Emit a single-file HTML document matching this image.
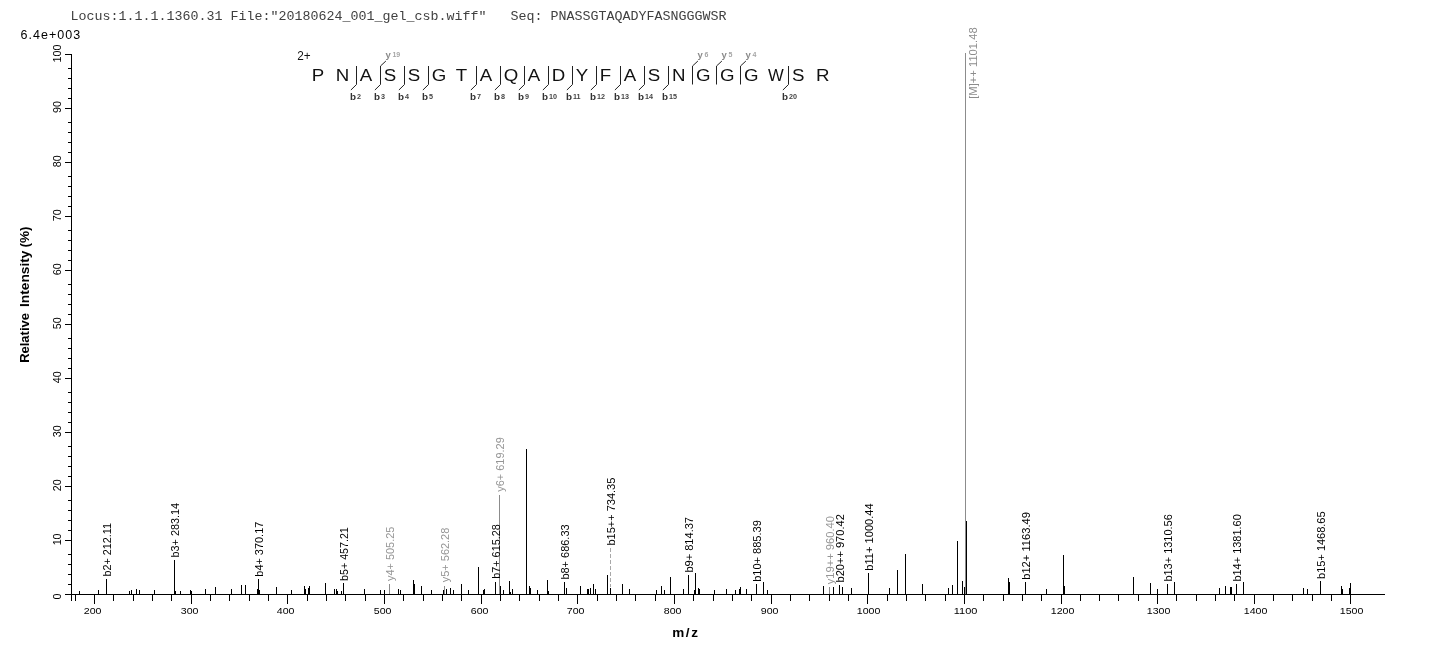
<!DOCTYPE html><html><head><meta charset="utf-8"><title>Spectrum</title><style>html,body{margin:0;padding:0;background:#fff;}svg{display:block;filter:grayscale(1);}</style></head><body>
<svg width="1436" height="654" viewBox="0 0 1436 654">
<rect width="1436" height="654" fill="#fff"/>
<text x="70.6" y="19.9" font-family="Liberation Mono, monospace" font-size="13.33" fill="#404040" xml:space="preserve" style="white-space:pre">Locus:1.1.1.1360.31 File:&quot;20180624_001_gel_csb.wiff&quot;   Seq: PNASSGTAQADYFASNGGGWSR</text>
<text x="20.5" y="38.8" font-family="Liberation Sans, sans-serif" font-size="12.5" fill="#000" textLength="59.6" lengthAdjust="spacing">6.4e+003</text>
<g fill="#000" shape-rendering="crispEdges">
<rect x="71" y="54" width="1" height="547"/>
<rect x="65" y="594" width="1320" height="1"/>
<rect x="65" y="594" width="6" height="1"/>
<rect x="68" y="584" width="3" height="1"/>
<rect x="68" y="574" width="3" height="1"/>
<rect x="68" y="564" width="3" height="1"/>
<rect x="68" y="554" width="3" height="1"/>
<rect x="65" y="540" width="6" height="1"/>
<rect x="68" y="530" width="3" height="1"/>
<rect x="68" y="520" width="3" height="1"/>
<rect x="68" y="510" width="3" height="1"/>
<rect x="68" y="500" width="3" height="1"/>
<rect x="65" y="486" width="6" height="1"/>
<rect x="68" y="476" width="3" height="1"/>
<rect x="68" y="466" width="3" height="1"/>
<rect x="68" y="456" width="3" height="1"/>
<rect x="68" y="446" width="3" height="1"/>
<rect x="65" y="432" width="6" height="1"/>
<rect x="68" y="422" width="3" height="1"/>
<rect x="68" y="412" width="3" height="1"/>
<rect x="68" y="402" width="3" height="1"/>
<rect x="68" y="392" width="3" height="1"/>
<rect x="65" y="378" width="6" height="1"/>
<rect x="68" y="368" width="3" height="1"/>
<rect x="68" y="358" width="3" height="1"/>
<rect x="68" y="348" width="3" height="1"/>
<rect x="68" y="338" width="3" height="1"/>
<rect x="65" y="324" width="6" height="1"/>
<rect x="68" y="314" width="3" height="1"/>
<rect x="68" y="304" width="3" height="1"/>
<rect x="68" y="294" width="3" height="1"/>
<rect x="68" y="284" width="3" height="1"/>
<rect x="65" y="270" width="6" height="1"/>
<rect x="68" y="260" width="3" height="1"/>
<rect x="68" y="250" width="3" height="1"/>
<rect x="68" y="240" width="3" height="1"/>
<rect x="68" y="230" width="3" height="1"/>
<rect x="65" y="216" width="6" height="1"/>
<rect x="68" y="206" width="3" height="1"/>
<rect x="68" y="196" width="3" height="1"/>
<rect x="68" y="186" width="3" height="1"/>
<rect x="68" y="176" width="3" height="1"/>
<rect x="65" y="162" width="6" height="1"/>
<rect x="68" y="152" width="3" height="1"/>
<rect x="68" y="142" width="3" height="1"/>
<rect x="68" y="132" width="3" height="1"/>
<rect x="68" y="122" width="3" height="1"/>
<rect x="65" y="108" width="6" height="1"/>
<rect x="68" y="98" width="3" height="1"/>
<rect x="68" y="88" width="3" height="1"/>
<rect x="68" y="78" width="3" height="1"/>
<rect x="68" y="68" width="3" height="1"/>
<rect x="65" y="54" width="6" height="1"/>
<rect x="75" y="595" width="1" height="6"/>
<rect x="94" y="595" width="1" height="9"/>
<rect x="113" y="595" width="1" height="6"/>
<rect x="133" y="595" width="1" height="6"/>
<rect x="152" y="595" width="1" height="6"/>
<rect x="171" y="595" width="1" height="6"/>
<rect x="191" y="595" width="1" height="9"/>
<rect x="210" y="595" width="1" height="6"/>
<rect x="229" y="595" width="1" height="6"/>
<rect x="249" y="595" width="1" height="6"/>
<rect x="268" y="595" width="1" height="6"/>
<rect x="287" y="595" width="1" height="9"/>
<rect x="307" y="595" width="1" height="6"/>
<rect x="326" y="595" width="1" height="6"/>
<rect x="345" y="595" width="1" height="6"/>
<rect x="365" y="595" width="1" height="6"/>
<rect x="384" y="595" width="1" height="9"/>
<rect x="403" y="595" width="1" height="6"/>
<rect x="423" y="595" width="1" height="6"/>
<rect x="442" y="595" width="1" height="6"/>
<rect x="461" y="595" width="1" height="6"/>
<rect x="481" y="595" width="1" height="9"/>
<rect x="500" y="595" width="1" height="6"/>
<rect x="519" y="595" width="1" height="6"/>
<rect x="539" y="595" width="1" height="6"/>
<rect x="558" y="595" width="1" height="6"/>
<rect x="577" y="595" width="1" height="9"/>
<rect x="597" y="595" width="1" height="6"/>
<rect x="616" y="595" width="1" height="6"/>
<rect x="635" y="595" width="1" height="6"/>
<rect x="655" y="595" width="1" height="6"/>
<rect x="674" y="595" width="1" height="9"/>
<rect x="693" y="595" width="1" height="6"/>
<rect x="713" y="595" width="1" height="6"/>
<rect x="732" y="595" width="1" height="6"/>
<rect x="751" y="595" width="1" height="6"/>
<rect x="771" y="595" width="1" height="9"/>
<rect x="790" y="595" width="1" height="6"/>
<rect x="809" y="595" width="1" height="6"/>
<rect x="829" y="595" width="1" height="6"/>
<rect x="848" y="595" width="1" height="6"/>
<rect x="867" y="595" width="1" height="9"/>
<rect x="887" y="595" width="1" height="6"/>
<rect x="906" y="595" width="1" height="6"/>
<rect x="925" y="595" width="1" height="6"/>
<rect x="945" y="595" width="1" height="6"/>
<rect x="964" y="595" width="1" height="9"/>
<rect x="983" y="595" width="1" height="6"/>
<rect x="1003" y="595" width="1" height="6"/>
<rect x="1022" y="595" width="1" height="6"/>
<rect x="1041" y="595" width="1" height="6"/>
<rect x="1061" y="595" width="1" height="9"/>
<rect x="1080" y="595" width="1" height="6"/>
<rect x="1099" y="595" width="1" height="6"/>
<rect x="1118" y="595" width="1" height="6"/>
<rect x="1138" y="595" width="1" height="6"/>
<rect x="1157" y="595" width="1" height="9"/>
<rect x="1176" y="595" width="1" height="6"/>
<rect x="1196" y="595" width="1" height="6"/>
<rect x="1215" y="595" width="1" height="6"/>
<rect x="1234" y="595" width="1" height="6"/>
<rect x="1254" y="595" width="1" height="9"/>
<rect x="1273" y="595" width="1" height="6"/>
<rect x="1292" y="595" width="1" height="6"/>
<rect x="1312" y="595" width="1" height="6"/>
<rect x="1331" y="595" width="1" height="6"/>
<rect x="1350" y="595" width="1" height="9"/>
</g>
<text x="83.8" y="613.8" font-family="Liberation Sans, sans-serif" font-size="9.9" fill="#000" textLength="17.7" lengthAdjust="spacingAndGlyphs">200</text>
<text x="180.8" y="613.8" font-family="Liberation Sans, sans-serif" font-size="9.9" fill="#000" textLength="17.7" lengthAdjust="spacingAndGlyphs">300</text>
<text x="276.8" y="613.8" font-family="Liberation Sans, sans-serif" font-size="9.9" fill="#000" textLength="17.7" lengthAdjust="spacingAndGlyphs">400</text>
<text x="373.8" y="613.8" font-family="Liberation Sans, sans-serif" font-size="9.9" fill="#000" textLength="17.7" lengthAdjust="spacingAndGlyphs">500</text>
<text x="470.8" y="613.8" font-family="Liberation Sans, sans-serif" font-size="9.9" fill="#000" textLength="17.7" lengthAdjust="spacingAndGlyphs">600</text>
<text x="566.8" y="613.8" font-family="Liberation Sans, sans-serif" font-size="9.9" fill="#000" textLength="17.7" lengthAdjust="spacingAndGlyphs">700</text>
<text x="663.8" y="613.8" font-family="Liberation Sans, sans-serif" font-size="9.9" fill="#000" textLength="17.7" lengthAdjust="spacingAndGlyphs">800</text>
<text x="760.8" y="613.8" font-family="Liberation Sans, sans-serif" font-size="9.9" fill="#000" textLength="17.7" lengthAdjust="spacingAndGlyphs">900</text>
<text x="856.8" y="613.8" font-family="Liberation Sans, sans-serif" font-size="9.9" fill="#000" textLength="23.6" lengthAdjust="spacingAndGlyphs">1000</text>
<text x="953.8" y="613.8" font-family="Liberation Sans, sans-serif" font-size="9.9" fill="#000" textLength="23.6" lengthAdjust="spacingAndGlyphs">1100</text>
<text x="1050.8" y="613.8" font-family="Liberation Sans, sans-serif" font-size="9.9" fill="#000" textLength="23.6" lengthAdjust="spacingAndGlyphs">1200</text>
<text x="1146.8" y="613.8" font-family="Liberation Sans, sans-serif" font-size="9.9" fill="#000" textLength="23.6" lengthAdjust="spacingAndGlyphs">1300</text>
<text x="1243.8" y="613.8" font-family="Liberation Sans, sans-serif" font-size="9.9" fill="#000" textLength="23.6" lengthAdjust="spacingAndGlyphs">1400</text>
<text x="1339.8" y="613.8" font-family="Liberation Sans, sans-serif" font-size="9.9" fill="#000" textLength="23.6" lengthAdjust="spacingAndGlyphs">1500</text>
<text transform="translate(61.2,596.4) rotate(-90)" font-family="Liberation Sans, sans-serif" font-size="10" text-anchor="middle" fill="#000" textLength="6.0" lengthAdjust="spacingAndGlyphs">0</text>
<text transform="translate(61.2,539.4) rotate(-90)" font-family="Liberation Sans, sans-serif" font-size="10" text-anchor="middle" fill="#000" textLength="11.9" lengthAdjust="spacingAndGlyphs">10</text>
<text transform="translate(61.2,485.3) rotate(-90)" font-family="Liberation Sans, sans-serif" font-size="10" text-anchor="middle" fill="#000" textLength="11.9" lengthAdjust="spacingAndGlyphs">20</text>
<text transform="translate(61.2,431.3) rotate(-90)" font-family="Liberation Sans, sans-serif" font-size="10" text-anchor="middle" fill="#000" textLength="11.9" lengthAdjust="spacingAndGlyphs">30</text>
<text transform="translate(61.2,377.3) rotate(-90)" font-family="Liberation Sans, sans-serif" font-size="10" text-anchor="middle" fill="#000" textLength="11.9" lengthAdjust="spacingAndGlyphs">40</text>
<text transform="translate(61.2,323.2) rotate(-90)" font-family="Liberation Sans, sans-serif" font-size="10" text-anchor="middle" fill="#000" textLength="11.9" lengthAdjust="spacingAndGlyphs">50</text>
<text transform="translate(61.2,269.2) rotate(-90)" font-family="Liberation Sans, sans-serif" font-size="10" text-anchor="middle" fill="#000" textLength="11.9" lengthAdjust="spacingAndGlyphs">60</text>
<text transform="translate(61.2,215.2) rotate(-90)" font-family="Liberation Sans, sans-serif" font-size="10" text-anchor="middle" fill="#000" textLength="11.9" lengthAdjust="spacingAndGlyphs">70</text>
<text transform="translate(61.2,161.2) rotate(-90)" font-family="Liberation Sans, sans-serif" font-size="10" text-anchor="middle" fill="#000" textLength="11.9" lengthAdjust="spacingAndGlyphs">80</text>
<text transform="translate(61.2,107.1) rotate(-90)" font-family="Liberation Sans, sans-serif" font-size="10" text-anchor="middle" fill="#000" textLength="11.9" lengthAdjust="spacingAndGlyphs">90</text>
<text transform="translate(61.2,53.6) rotate(-90)" font-family="Liberation Sans, sans-serif" font-size="10" text-anchor="middle" fill="#000" textLength="17.9" lengthAdjust="spacingAndGlyphs">100</text>
<text transform="translate(29.3,362.8) rotate(-90)" font-family="Liberation Sans, sans-serif" font-size="13.2" font-weight="bold" fill="#000" textLength="49.7" lengthAdjust="spacingAndGlyphs">Relative</text>
<text transform="translate(29.3,307.0) rotate(-90)" font-family="Liberation Sans, sans-serif" font-size="13.2" font-weight="bold" fill="#000" textLength="56.4" lengthAdjust="spacingAndGlyphs">Intensity</text>
<text transform="translate(29.3,247.6) rotate(-90)" font-family="Liberation Sans, sans-serif" font-size="13.2" font-weight="bold" fill="#000" textLength="21.1" lengthAdjust="spacingAndGlyphs">(%)</text>
<text x="672.2" y="637" font-family="Liberation Sans, sans-serif" font-size="13.5" font-weight="bold" fill="#000" textLength="25.8" lengthAdjust="spacing">m/z</text>
<g shape-rendering="crispEdges">
<rect x="79" y="591" width="1" height="3" fill="#000"/>
<rect x="98" y="590" width="1" height="4" fill="#000"/>
<rect x="106" y="579" width="1" height="15" fill="#000"/>
<rect x="129" y="591" width="1" height="3" fill="#000"/>
<rect x="131" y="590" width="1" height="4" fill="#000"/>
<rect x="136" y="589" width="1" height="5" fill="#000"/>
<rect x="139" y="590" width="1" height="4" fill="#000"/>
<rect x="154" y="590" width="1" height="4" fill="#000"/>
<rect x="174" y="560" width="1" height="34" fill="#000"/>
<rect x="175" y="591" width="1" height="3" fill="#000"/>
<rect x="180" y="591" width="1" height="3" fill="#000"/>
<rect x="190" y="590" width="1" height="4" fill="#000"/>
<rect x="191" y="591" width="1" height="3" fill="#000"/>
<rect x="205" y="589" width="1" height="5" fill="#000"/>
<rect x="215" y="587" width="1" height="7" fill="#000"/>
<rect x="231" y="589" width="1" height="5" fill="#000"/>
<rect x="241" y="585" width="1" height="9" fill="#000"/>
<rect x="245" y="585" width="1" height="9" fill="#000"/>
<rect x="257" y="589" width="1" height="5" fill="#000"/>
<rect x="258" y="579" width="1" height="15" fill="#000"/>
<rect x="259" y="590" width="1" height="4" fill="#000"/>
<rect x="276" y="587" width="1" height="7" fill="#000"/>
<rect x="291" y="590" width="1" height="4" fill="#000"/>
<rect x="304" y="586" width="1" height="8" fill="#000"/>
<rect x="305" y="589" width="1" height="5" fill="#000"/>
<rect x="308" y="588" width="1" height="6" fill="#000"/>
<rect x="309" y="586" width="1" height="8" fill="#000"/>
<rect x="325" y="583" width="1" height="11" fill="#000"/>
<rect x="334" y="589" width="1" height="5" fill="#000"/>
<rect x="336" y="589" width="1" height="5" fill="#000"/>
<rect x="337" y="591" width="1" height="3" fill="#000"/>
<rect x="341" y="591" width="1" height="3" fill="#000"/>
<rect x="343" y="583" width="1" height="11" fill="#000"/>
<rect x="364" y="589" width="1" height="5" fill="#000"/>
<rect x="380" y="590" width="1" height="4" fill="#000"/>
<rect x="384" y="590" width="1" height="4" fill="#000"/>
<rect x="398" y="589" width="1" height="5" fill="#000"/>
<rect x="400" y="590" width="1" height="4" fill="#000"/>
<rect x="413" y="580" width="1" height="14" fill="#000"/>
<rect x="414" y="584" width="1" height="10" fill="#000"/>
<rect x="421" y="586" width="1" height="8" fill="#000"/>
<rect x="431" y="590" width="1" height="4" fill="#000"/>
<rect x="443" y="590" width="1" height="4" fill="#000"/>
<rect x="446" y="589" width="1" height="5" fill="#000"/>
<rect x="450" y="588" width="1" height="6" fill="#000"/>
<rect x="453" y="590" width="1" height="4" fill="#000"/>
<rect x="461" y="584" width="1" height="10" fill="#000"/>
<rect x="468" y="590" width="1" height="4" fill="#000"/>
<rect x="478" y="567" width="1" height="27" fill="#000"/>
<rect x="483" y="590" width="1" height="4" fill="#000"/>
<rect x="484" y="589" width="1" height="5" fill="#000"/>
<rect x="495" y="582" width="1" height="12" fill="#000"/>
<rect x="500" y="586" width="1" height="8" fill="#000"/>
<rect x="503" y="590" width="1" height="4" fill="#000"/>
<rect x="509" y="581" width="1" height="13" fill="#000"/>
<rect x="510" y="592" width="1" height="2" fill="#000"/>
<rect x="512" y="589" width="1" height="5" fill="#000"/>
<rect x="526" y="449" width="1" height="145" fill="#000"/>
<rect x="529" y="586" width="1" height="8" fill="#000"/>
<rect x="530" y="588" width="1" height="6" fill="#000"/>
<rect x="537" y="590" width="1" height="4" fill="#000"/>
<rect x="547" y="580" width="1" height="14" fill="#000"/>
<rect x="548" y="591" width="1" height="3" fill="#000"/>
<rect x="564" y="582" width="1" height="12" fill="#000"/>
<rect x="566" y="588" width="1" height="6" fill="#000"/>
<rect x="580" y="586" width="1" height="8" fill="#000"/>
<rect x="587" y="589" width="1" height="5" fill="#000"/>
<rect x="588" y="589" width="1" height="5" fill="#000"/>
<rect x="590" y="588" width="1" height="6" fill="#000"/>
<rect x="593" y="584" width="1" height="10" fill="#000"/>
<rect x="595" y="589" width="1" height="5" fill="#000"/>
<rect x="607" y="575" width="1" height="19" fill="#000"/>
<rect x="610" y="588" width="1" height="6" fill="#000"/>
<rect x="622" y="584" width="1" height="10" fill="#000"/>
<rect x="629" y="589" width="1" height="5" fill="#000"/>
<rect x="656" y="590" width="1" height="4" fill="#000"/>
<rect x="661" y="586" width="1" height="8" fill="#000"/>
<rect x="664" y="590" width="1" height="4" fill="#000"/>
<rect x="670" y="577" width="1" height="17" fill="#000"/>
<rect x="683" y="589" width="1" height="5" fill="#000"/>
<rect x="688" y="575" width="1" height="19" fill="#000"/>
<rect x="694" y="590" width="1" height="4" fill="#000"/>
<rect x="695" y="573" width="1" height="21" fill="#000"/>
<rect x="698" y="588" width="1" height="6" fill="#000"/>
<rect x="699" y="589" width="1" height="5" fill="#000"/>
<rect x="714" y="590" width="1" height="4" fill="#000"/>
<rect x="726" y="589" width="1" height="5" fill="#000"/>
<rect x="735" y="590" width="1" height="4" fill="#000"/>
<rect x="739" y="589" width="1" height="5" fill="#000"/>
<rect x="740" y="587" width="1" height="7" fill="#000"/>
<rect x="746" y="589" width="1" height="5" fill="#000"/>
<rect x="756" y="584" width="1" height="10" fill="#000"/>
<rect x="763" y="582" width="1" height="12" fill="#000"/>
<rect x="767" y="590" width="1" height="4" fill="#000"/>
<rect x="823" y="586" width="1" height="8" fill="#000"/>
<rect x="833" y="587" width="1" height="7" fill="#000"/>
<rect x="839" y="585" width="1" height="9" fill="#000"/>
<rect x="842" y="587" width="1" height="7" fill="#000"/>
<rect x="851" y="588" width="1" height="6" fill="#000"/>
<rect x="868" y="573" width="1" height="21" fill="#000"/>
<rect x="889" y="588" width="1" height="6" fill="#000"/>
<rect x="897" y="570" width="1" height="24" fill="#000"/>
<rect x="905" y="554" width="1" height="40" fill="#000"/>
<rect x="922" y="584" width="1" height="10" fill="#000"/>
<rect x="948" y="588" width="1" height="6" fill="#000"/>
<rect x="952" y="585" width="1" height="9" fill="#000"/>
<rect x="957" y="541" width="1" height="53" fill="#000"/>
<rect x="962" y="581" width="1" height="13" fill="#000"/>
<rect x="964" y="587" width="1" height="7" fill="#000"/>
<rect x="966" y="521" width="1" height="73" fill="#000"/>
<rect x="1008" y="578" width="1" height="16" fill="#000"/>
<rect x="1009" y="582" width="1" height="12" fill="#000"/>
<rect x="1025" y="582" width="1" height="12" fill="#000"/>
<rect x="1046" y="589" width="1" height="5" fill="#000"/>
<rect x="1063" y="555" width="1" height="39" fill="#000"/>
<rect x="1064" y="586" width="1" height="8" fill="#000"/>
<rect x="1133" y="577" width="1" height="17" fill="#000"/>
<rect x="1150" y="583" width="1" height="11" fill="#000"/>
<rect x="1157" y="589" width="1" height="5" fill="#000"/>
<rect x="1167" y="584" width="1" height="10" fill="#000"/>
<rect x="1174" y="582" width="1" height="12" fill="#000"/>
<rect x="1219" y="588" width="1" height="6" fill="#000"/>
<rect x="1225" y="586" width="1" height="8" fill="#000"/>
<rect x="1230" y="587" width="1" height="7" fill="#000"/>
<rect x="1231" y="587" width="1" height="7" fill="#000"/>
<rect x="1236" y="584" width="1" height="10" fill="#000"/>
<rect x="1243" y="582" width="1" height="12" fill="#000"/>
<rect x="1303" y="588" width="1" height="6" fill="#000"/>
<rect x="1307" y="589" width="1" height="5" fill="#000"/>
<rect x="1320" y="581" width="1" height="13" fill="#000"/>
<rect x="1341" y="586" width="1" height="8" fill="#000"/>
<rect x="1342" y="589" width="1" height="5" fill="#000"/>
<rect x="1349" y="588" width="1" height="6" fill="#000"/>
<rect x="1350" y="583" width="1" height="11" fill="#000"/>
<rect x="389" y="584" width="1" height="10" fill="#8c8c8c"/>
<rect x="444" y="586" width="1" height="8" fill="#8c8c8c"/>
<rect x="499" y="495" width="1" height="99" fill="#8c8c8c"/>
<rect x="829" y="587" width="1" height="7" fill="#8c8c8c"/>
<rect x="965" y="53" width="1" height="541" fill="#8c8c8c"/>
<line x1="610.5" y1="548" x2="610.5" y2="587" stroke="#a8a8a8" stroke-width="1" stroke-dasharray="3.5,2.5"/>
</g>
<text transform="translate(110.9,576.5) rotate(-90)" font-family="Liberation Sans, sans-serif" font-size="10.8" fill="#000" textLength="53.5" lengthAdjust="spacingAndGlyphs">b2+ 212.11</text>
<text transform="translate(178.9,557.5) rotate(-90)" font-family="Liberation Sans, sans-serif" font-size="10.8" fill="#000" textLength="54.5" lengthAdjust="spacingAndGlyphs">b3+ 283.14</text>
<text transform="translate(262.8,576.7) rotate(-90)" font-family="Liberation Sans, sans-serif" font-size="10.8" fill="#000" textLength="55.0" lengthAdjust="spacingAndGlyphs">b4+ 370.17</text>
<text transform="translate(347.9,580.9) rotate(-90)" font-family="Liberation Sans, sans-serif" font-size="10.8" fill="#000" textLength="53.7" lengthAdjust="spacingAndGlyphs">b5+ 457.21</text>
<text transform="translate(393.8,580.9) rotate(-90)" font-family="Liberation Sans, sans-serif" font-size="10.8" fill="#959595" textLength="54.2" lengthAdjust="spacingAndGlyphs">y4+ 505.25</text>
<text transform="translate(448.7,582.2) rotate(-90)" font-family="Liberation Sans, sans-serif" font-size="10.8" fill="#959595" textLength="54.5" lengthAdjust="spacingAndGlyphs">y5+ 562.28</text>
<text transform="translate(503.7,491.8) rotate(-90)" font-family="Liberation Sans, sans-serif" font-size="10.8" fill="#959595" textLength="54.6" lengthAdjust="spacingAndGlyphs">y6+ 619.29</text>
<text transform="translate(499.8,578.8) rotate(-90)" font-family="Liberation Sans, sans-serif" font-size="10.8" fill="#000" textLength="54.6" lengthAdjust="spacingAndGlyphs">b7+ 615.28</text>
<text transform="translate(569.0,579.6) rotate(-90)" font-family="Liberation Sans, sans-serif" font-size="10.8" fill="#000" textLength="55.2" lengthAdjust="spacingAndGlyphs">b8+ 686.33</text>
<text transform="translate(614.7,545.6) rotate(-90)" font-family="Liberation Sans, sans-serif" font-size="10.8" fill="#000" textLength="67.9" lengthAdjust="spacingAndGlyphs">b15++ 734.35</text>
<text transform="translate(692.9,572.6) rotate(-90)" font-family="Liberation Sans, sans-serif" font-size="10.8" fill="#000" textLength="55.6" lengthAdjust="spacingAndGlyphs">b9+ 814.37</text>
<text transform="translate(761.0,581.8) rotate(-90)" font-family="Liberation Sans, sans-serif" font-size="10.8" fill="#000" textLength="61.6" lengthAdjust="spacingAndGlyphs">b10+ 885.39</text>
<text transform="translate(834.0,584.3) rotate(-90)" font-family="Liberation Sans, sans-serif" font-size="10.8" fill="#959595" textLength="68.3" lengthAdjust="spacingAndGlyphs">y19++ 960.40</text>
<text transform="translate(843.9,582.5) rotate(-90)" font-family="Liberation Sans, sans-serif" font-size="10.8" fill="#000" textLength="68.3" lengthAdjust="spacingAndGlyphs">b20++ 970.42</text>
<text transform="translate(872.9,570.7) rotate(-90)" font-family="Liberation Sans, sans-serif" font-size="10.8" fill="#000" textLength="67.4" lengthAdjust="spacingAndGlyphs">b11+ 1000.44</text>
<text transform="translate(1029.9,579.8) rotate(-90)" font-family="Liberation Sans, sans-serif" font-size="10.8" fill="#000" textLength="67.7" lengthAdjust="spacingAndGlyphs">b12+ 1163.49</text>
<text transform="translate(1171.8,581.6) rotate(-90)" font-family="Liberation Sans, sans-serif" font-size="10.8" fill="#000" textLength="67.4" lengthAdjust="spacingAndGlyphs">b13+ 1310.56</text>
<text transform="translate(1241.0,581.6) rotate(-90)" font-family="Liberation Sans, sans-serif" font-size="10.8" fill="#000" textLength="67.4" lengthAdjust="spacingAndGlyphs">b14+ 1381.60</text>
<text transform="translate(1324.9,578.9) rotate(-90)" font-family="Liberation Sans, sans-serif" font-size="10.8" fill="#000" textLength="67.5" lengthAdjust="spacingAndGlyphs">b15+ 1468.65</text>
<text transform="translate(976.6,98.8) rotate(-90)" font-family="Liberation Sans, sans-serif" font-size="10.8" fill="#8c8c8c" textLength="71.5" lengthAdjust="spacingAndGlyphs">[M]++ 1101.48</text>
<text x="297.2" y="59.8" font-family="Liberation Sans, sans-serif" font-size="12.6" fill="#111" textLength="13.4" lengthAdjust="spacingAndGlyphs">2+</text>
<text transform="translate(311.7,81) scale(1.1,1)" font-family="Liberation Sans, sans-serif" font-size="17" fill="#111">P</text>
<text transform="translate(335.7,81) scale(1.1,1)" font-family="Liberation Sans, sans-serif" font-size="17" fill="#111">N</text>
<text transform="translate(359.7,81) scale(1.1,1)" font-family="Liberation Sans, sans-serif" font-size="17" fill="#111">A</text>
<text transform="translate(383.7,81) scale(1.1,1)" font-family="Liberation Sans, sans-serif" font-size="17" fill="#111">S</text>
<text transform="translate(407.7,81) scale(1.1,1)" font-family="Liberation Sans, sans-serif" font-size="17" fill="#111">S</text>
<text transform="translate(431.8,81) scale(1.1,1)" font-family="Liberation Sans, sans-serif" font-size="17" fill="#111">G</text>
<text transform="translate(455.8,81) scale(1.1,1)" font-family="Liberation Sans, sans-serif" font-size="17" fill="#111">T</text>
<text transform="translate(479.8,81) scale(1.1,1)" font-family="Liberation Sans, sans-serif" font-size="17" fill="#111">A</text>
<text transform="translate(503.8,81) scale(1.1,1)" font-family="Liberation Sans, sans-serif" font-size="17" fill="#111">Q</text>
<text transform="translate(527.8,81) scale(1.1,1)" font-family="Liberation Sans, sans-serif" font-size="17" fill="#111">A</text>
<text transform="translate(551.8,81) scale(1.1,1)" font-family="Liberation Sans, sans-serif" font-size="17" fill="#111">D</text>
<text transform="translate(575.8,81) scale(1.1,1)" font-family="Liberation Sans, sans-serif" font-size="17" fill="#111">Y</text>
<text transform="translate(599.8,81) scale(1.1,1)" font-family="Liberation Sans, sans-serif" font-size="17" fill="#111">F</text>
<text transform="translate(623.8,81) scale(1.1,1)" font-family="Liberation Sans, sans-serif" font-size="17" fill="#111">A</text>
<text transform="translate(647.8,81) scale(1.1,1)" font-family="Liberation Sans, sans-serif" font-size="17" fill="#111">S</text>
<text transform="translate(671.9,81) scale(1.1,1)" font-family="Liberation Sans, sans-serif" font-size="17" fill="#111">N</text>
<text transform="translate(695.9,81) scale(1.1,1)" font-family="Liberation Sans, sans-serif" font-size="17" fill="#111">G</text>
<text transform="translate(719.9,81) scale(1.1,1)" font-family="Liberation Sans, sans-serif" font-size="17" fill="#111">G</text>
<text transform="translate(743.9,81) scale(1.1,1)" font-family="Liberation Sans, sans-serif" font-size="17" fill="#111">G</text>
<text transform="translate(767.9,81) scale(0.98,1)" font-family="Liberation Sans, sans-serif" font-size="17" fill="#111">W</text>
<text transform="translate(791.9,81) scale(1.1,1)" font-family="Liberation Sans, sans-serif" font-size="17" fill="#111">S</text>
<text transform="translate(815.9,81) scale(1.1,1)" font-family="Liberation Sans, sans-serif" font-size="17" fill="#111">R</text>
<line x1="356.5" y1="66" x2="356.5" y2="84.5" stroke="#222" stroke-width="1"/>
<line x1="356.5" y1="84.5" x2="350.9" y2="90" stroke="#222" stroke-width="1"/>
<text x="350.0" y="99.8" font-family="Liberation Sans, sans-serif" font-size="9.9" font-weight="bold" fill="#333">b<tspan font-size="7.2" font-weight="bold" fill="#444" dx="0.9" dy="-0.7">2</tspan></text>
<line x1="380.5" y1="66" x2="380.5" y2="84.5" stroke="#222" stroke-width="1"/>
<line x1="380.5" y1="84.5" x2="374.9" y2="90" stroke="#222" stroke-width="1"/>
<text x="374.0" y="99.8" font-family="Liberation Sans, sans-serif" font-size="9.9" font-weight="bold" fill="#333">b<tspan font-size="7.2" font-weight="bold" fill="#444" dx="0.9" dy="-0.7">3</tspan></text>
<line x1="380.5" y1="66" x2="385.9" y2="61" stroke="#222" stroke-width="1"/>
<text x="385.5" y="58.0" font-family="Liberation Sans, sans-serif" font-size="9.5" font-weight="bold" fill="#8a8a8a">y<tspan font-size="7" font-weight="bold" fill="#a5a5a5" dx="1.6" dy="-1.2">19</tspan></text>
<line x1="404.5" y1="66" x2="404.5" y2="84.5" stroke="#222" stroke-width="1"/>
<line x1="404.5" y1="84.5" x2="398.9" y2="90" stroke="#222" stroke-width="1"/>
<text x="398.0" y="99.8" font-family="Liberation Sans, sans-serif" font-size="9.9" font-weight="bold" fill="#333">b<tspan font-size="7.2" font-weight="bold" fill="#444" dx="0.9" dy="-0.7">4</tspan></text>
<line x1="428.5" y1="66" x2="428.5" y2="84.5" stroke="#222" stroke-width="1"/>
<line x1="428.5" y1="84.5" x2="422.9" y2="90" stroke="#222" stroke-width="1"/>
<text x="422.0" y="99.8" font-family="Liberation Sans, sans-serif" font-size="9.9" font-weight="bold" fill="#333">b<tspan font-size="7.2" font-weight="bold" fill="#444" dx="0.9" dy="-0.7">5</tspan></text>
<line x1="476.5" y1="66" x2="476.5" y2="84.5" stroke="#222" stroke-width="1"/>
<line x1="476.5" y1="84.5" x2="470.9" y2="90" stroke="#222" stroke-width="1"/>
<text x="470.0" y="99.8" font-family="Liberation Sans, sans-serif" font-size="9.9" font-weight="bold" fill="#333">b<tspan font-size="7.2" font-weight="bold" fill="#444" dx="0.9" dy="-0.7">7</tspan></text>
<line x1="500.5" y1="66" x2="500.5" y2="84.5" stroke="#222" stroke-width="1"/>
<line x1="500.5" y1="84.5" x2="494.9" y2="90" stroke="#222" stroke-width="1"/>
<text x="494.0" y="99.8" font-family="Liberation Sans, sans-serif" font-size="9.9" font-weight="bold" fill="#333">b<tspan font-size="7.2" font-weight="bold" fill="#444" dx="0.9" dy="-0.7">8</tspan></text>
<line x1="524.5" y1="66" x2="524.5" y2="84.5" stroke="#222" stroke-width="1"/>
<line x1="524.5" y1="84.5" x2="518.9" y2="90" stroke="#222" stroke-width="1"/>
<text x="518.0" y="99.8" font-family="Liberation Sans, sans-serif" font-size="9.9" font-weight="bold" fill="#333">b<tspan font-size="7.2" font-weight="bold" fill="#444" dx="0.9" dy="-0.7">9</tspan></text>
<line x1="548.5" y1="66" x2="548.5" y2="84.5" stroke="#222" stroke-width="1"/>
<line x1="548.5" y1="84.5" x2="542.9" y2="90" stroke="#222" stroke-width="1"/>
<text x="542.0" y="99.8" font-family="Liberation Sans, sans-serif" font-size="9.9" font-weight="bold" fill="#333">b<tspan font-size="7.2" font-weight="bold" fill="#444" dx="0.9" dy="-0.7">10</tspan></text>
<line x1="572.5" y1="66" x2="572.5" y2="84.5" stroke="#222" stroke-width="1"/>
<line x1="572.5" y1="84.5" x2="566.9" y2="90" stroke="#222" stroke-width="1"/>
<text x="566.0" y="99.8" font-family="Liberation Sans, sans-serif" font-size="9.9" font-weight="bold" fill="#333">b<tspan font-size="7.2" font-weight="bold" fill="#444" dx="0.9" dy="-0.7">11</tspan></text>
<line x1="596.5" y1="66" x2="596.5" y2="84.5" stroke="#222" stroke-width="1"/>
<line x1="596.5" y1="84.5" x2="590.9" y2="90" stroke="#222" stroke-width="1"/>
<text x="590.0" y="99.8" font-family="Liberation Sans, sans-serif" font-size="9.9" font-weight="bold" fill="#333">b<tspan font-size="7.2" font-weight="bold" fill="#444" dx="0.9" dy="-0.7">12</tspan></text>
<line x1="620.5" y1="66" x2="620.5" y2="84.5" stroke="#222" stroke-width="1"/>
<line x1="620.5" y1="84.5" x2="614.9" y2="90" stroke="#222" stroke-width="1"/>
<text x="614.0" y="99.8" font-family="Liberation Sans, sans-serif" font-size="9.9" font-weight="bold" fill="#333">b<tspan font-size="7.2" font-weight="bold" fill="#444" dx="0.9" dy="-0.7">13</tspan></text>
<line x1="644.5" y1="66" x2="644.5" y2="84.5" stroke="#222" stroke-width="1"/>
<line x1="644.5" y1="84.5" x2="638.9" y2="90" stroke="#222" stroke-width="1"/>
<text x="638.0" y="99.8" font-family="Liberation Sans, sans-serif" font-size="9.9" font-weight="bold" fill="#333">b<tspan font-size="7.2" font-weight="bold" fill="#444" dx="0.9" dy="-0.7">14</tspan></text>
<line x1="668.5" y1="66" x2="668.5" y2="84.5" stroke="#222" stroke-width="1"/>
<line x1="668.5" y1="84.5" x2="662.9" y2="90" stroke="#222" stroke-width="1"/>
<text x="662.0" y="99.8" font-family="Liberation Sans, sans-serif" font-size="9.9" font-weight="bold" fill="#333">b<tspan font-size="7.2" font-weight="bold" fill="#444" dx="0.9" dy="-0.7">15</tspan></text>
<line x1="692.5" y1="66" x2="692.5" y2="84.5" stroke="#222" stroke-width="1"/>
<line x1="692.5" y1="66" x2="697.9" y2="61" stroke="#222" stroke-width="1"/>
<text x="697.5" y="58.0" font-family="Liberation Sans, sans-serif" font-size="9.5" font-weight="bold" fill="#8a8a8a">y<tspan font-size="7" font-weight="bold" fill="#a5a5a5" dx="1.6" dy="-1.2">6</tspan></text>
<line x1="716.5" y1="66" x2="716.5" y2="84.5" stroke="#222" stroke-width="1"/>
<line x1="716.5" y1="66" x2="721.9" y2="61" stroke="#222" stroke-width="1"/>
<text x="721.5" y="58.0" font-family="Liberation Sans, sans-serif" font-size="9.5" font-weight="bold" fill="#8a8a8a">y<tspan font-size="7" font-weight="bold" fill="#a5a5a5" dx="1.6" dy="-1.2">5</tspan></text>
<line x1="740.5" y1="66" x2="740.5" y2="84.5" stroke="#222" stroke-width="1"/>
<line x1="740.5" y1="66" x2="745.9" y2="61" stroke="#222" stroke-width="1"/>
<text x="745.5" y="58.0" font-family="Liberation Sans, sans-serif" font-size="9.5" font-weight="bold" fill="#8a8a8a">y<tspan font-size="7" font-weight="bold" fill="#a5a5a5" dx="1.6" dy="-1.2">4</tspan></text>
<line x1="788.5" y1="66" x2="788.5" y2="84.5" stroke="#222" stroke-width="1"/>
<line x1="788.5" y1="84.5" x2="782.9" y2="90" stroke="#222" stroke-width="1"/>
<text x="782.0" y="99.8" font-family="Liberation Sans, sans-serif" font-size="9.9" font-weight="bold" fill="#333">b<tspan font-size="7.2" font-weight="bold" fill="#444" dx="0.9" dy="-0.7">20</tspan></text>
</svg></body></html>
